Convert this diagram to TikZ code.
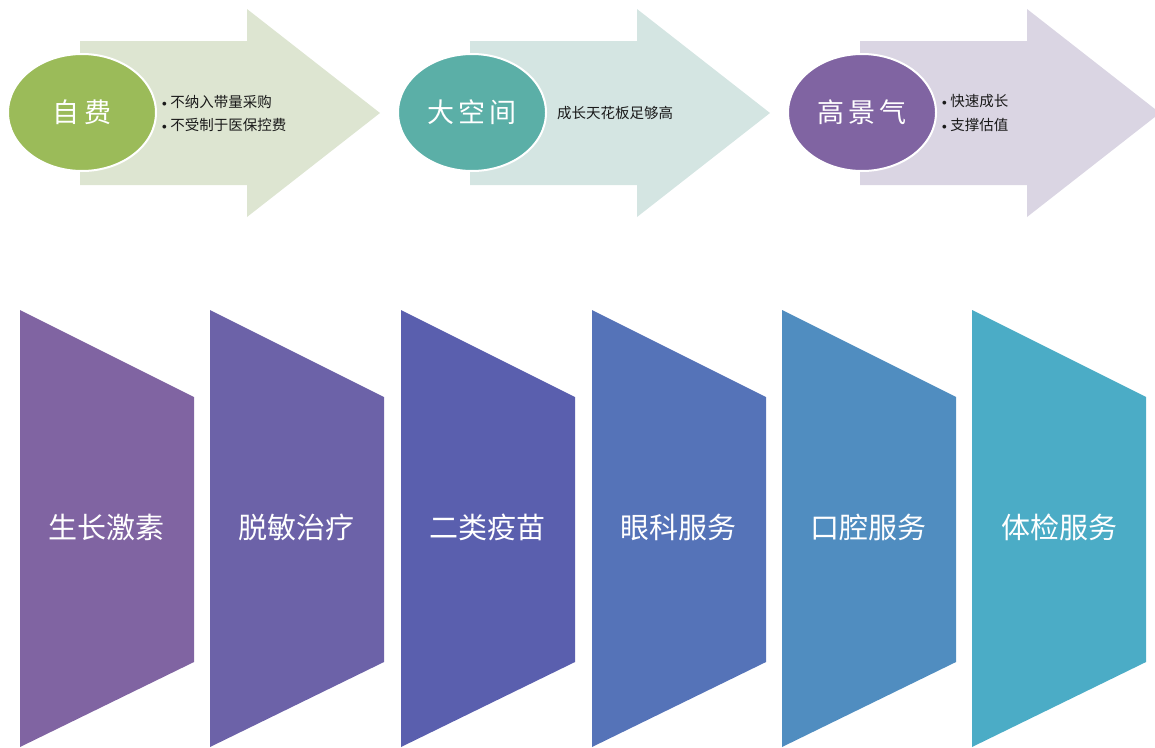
\documentclass[tikz,border=0pt]{standalone}
\usepackage{fontspec}
\newfontfamily\cjk{Noto Sans CJK SC}
\usetikzlibrary{shapes.geometric}
\definecolor{arrA}{HTML}{DDE5D1}
\definecolor{arrB}{HTML}{D4E5E2}
\definecolor{arrC}{HTML}{DAD5E3}
\definecolor{ellA}{HTML}{9BBB59}
\definecolor{ellB}{HTML}{5BAFA7}
\definecolor{ellC}{HTML}{8064A2}
\definecolor{pA}{HTML}{8064A2}
\definecolor{pB}{HTML}{6C62A8}
\definecolor{pC}{HTML}{5A5FAE}
\definecolor{pD}{HTML}{5573B8}
\definecolor{pE}{HTML}{508DC0}
\definecolor{pF}{HTML}{4BACC6}
\definecolor{txt}{HTML}{1A1A1A}
\tikzset{
  ellnode/.style={ellipse, draw=white, line width=2pt, minimum width=148pt, minimum height=117pt, inner sep=0pt, text=white, font=\cjk\fontsize{27}{30}\selectfont},
  smalltxt/.style={anchor=west, inner sep=0pt, text=txt, font=\cjk\fontsize{14.5}{16}\selectfont},
  lbl/.style={text=white, inner sep=0pt, font=\cjk\fontsize{29}{32}\selectfont},
}
\newcommand{\bul}{{\normalfont\fontsize{14}{16}\selectfont\textbullet}\kern0.5pt}
\newcommand{\bigarrowat}[2]{%
  \fill[#2] (#1+80,41) -- (#1+247,41) -- (#1+247,9) -- (#1+380,113) -- (#1+247,217) -- (#1+247,185) -- (#1+80,185) -- cycle;}
\newcommand{\panelat}[2]{%
  \fill[#2] (#1,310) -- (#1+174,397) -- (#1+174,662) -- (#1,747) -- cycle;}
\begin{document}
\begin{tikzpicture}[x=1pt,y=-1pt]
\useasboundingbox (0,0) rectangle (1155,747);
% top arrows
\bigarrowat{0}{arrA}
\bigarrowat{390}{arrB}
\bigarrowat{780}{arrC}
\node[ellnode, fill=ellA] (e1) at (82,112.5) {自\,费};
\node[ellnode, fill=ellB] (e2) at (472,112.5) {大\kern4pt 空\kern4pt 间};
\node[ellnode, fill=ellC] (e3) at (862,112.5) {高\kern4pt 景\kern4pt 气};
\node[smalltxt] (t1a) at (159,101.5) {\bul 不纳入带量采购};
\node[smalltxt] (t1b) at (159,124.5) {\bul 不受制于医保控费};
\node[smalltxt] (t2) at (557,113) {成长天花板足够高};
\node[smalltxt] (t3a) at (939,101) {\bul 快速成长};
\node[smalltxt] (t3b) at (939,125) {\bul 支撑估值};
% bottom panels
\panelat{20}{pA}
\panelat{210}{pB}
\panelat{401}{pC}
\panelat{592}{pD}
\panelat{782}{pE}
\panelat{972}{pF}
\node[lbl] (b1) at (106,527) {生长激素};
\node[lbl] (b2) at (296,527) {脱敏治疗};
\node[lbl] (b3) at (487,527) {二类疫苗};
\node[lbl] (b4) at (678,527) {眼科服务};
\node[lbl] (b5) at (868,527) {口腔服务};
\node[lbl] (b6) at (1059,527) {体检服务};
\end{tikzpicture}
\end{document}
